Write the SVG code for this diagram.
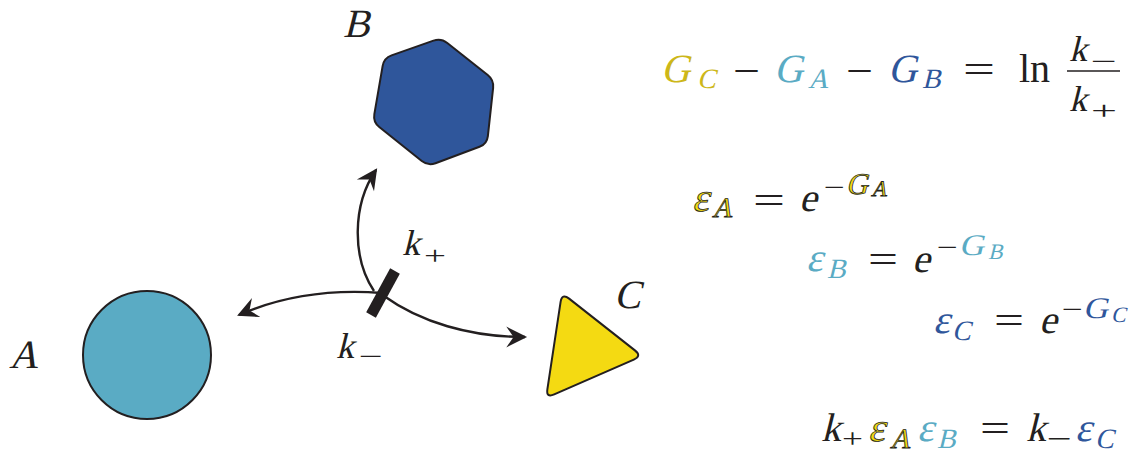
<svg xmlns="http://www.w3.org/2000/svg" width="1139" height="455" viewBox="0 0 1139 455">
<style>
text{font-family:"Liberation Serif","DejaVu Serif",serif;font-style:normal;fill:#231f20}
.shape{stroke:#231f20;stroke-width:2;stroke-linejoin:round}
.conn{fill:none;stroke:#231f20;stroke-width:2.4}
.y{fill:#cdb719}
.yo{fill:#f4da12;stroke:#231f20;stroke-width:0.8}
.lb{fill:#5aabc4}
.db{fill:#2f569b}
.s40{font-size:40px}
.s36{font-size:36px}
.s30{font-size:30px}
.s28{font-size:28px}
.s26{font-size:26px}
.s22{font-size:22px}
.s20{font-size:20px}
</style>
<defs>
<marker id="ah" markerUnits="userSpaceOnUse" markerWidth="26" markerHeight="26" refX="0" refY="0" viewBox="-21 -11 25 22" orient="auto">
<path d="M2,0 L-18,-10 L-11,0 L-18,10 Z" fill="#231f20"/>
</marker>
</defs>
<g id="node-A">
<circle cx="147" cy="355" r="64" fill="#5aabc4" class="shape"/>
<text class="s40" transform="translate(9,368) skewX(-14)">A</text>
</g>
<g id="node-B">
<path class="shape" fill="#2f569b" d="M391.55,55.35 L433.45,40.65 Q441,38 447.27,42.97 L487.73,75.03 Q494,80 493.13,87.95 L487.87,136.05 Q487,144 479.5,146.79 L435.5,163.21 Q428,166 421.75,161 L379.25,127 Q373,122 374.35,114.11 L382.65,65.89 Q384,58 391.55,55.35 Z"/>
<text class="s40" transform="translate(343,37) skewX(-14)">B</text>
</g>
<g id="node-C">
<path class="shape" fill="#f4da12" d="M569.1,298.6 L634.9,350.4 Q642,356 633.8,359.6 L554.2,394.4 Q546,398 547.4,389.1 L560.6,301.9 Q562,293 569.1,298.6 Z"/>
<text class="s40" transform="translate(614,308) skewX(-14)">C</text>
</g>
<g id="connectors">
<path class="conn" d="M374,291 C352,258 352,205 376,170" marker-end="url(#ah)"/>
<path class="conn" d="M382,293 C330,289 280,297 239,315" marker-end="url(#ah)"/>
<path class="conn" d="M384,296 C420,322 470,337 525,337" marker-end="url(#ah)"/>
<line x1="395" y1="271" x2="371" y2="315" stroke="#231f20" stroke-width="11"/>
<text class="s36" transform="translate(402,255) skewX(-14)">k</text>
<text class="s26" x="424" y="264" textLength="22" lengthAdjust="spacingAndGlyphs">+</text>
<text class="s36" transform="translate(336,358) skewX(-14)">k</text>
<text class="s26" x="359" y="365" textLength="24" lengthAdjust="spacingAndGlyphs">−</text>
</g>
<g id="eq1">
<text class="s40 y" transform="translate(661,82) skewX(-14)">G</text>
<text class="s28 y" transform="translate(697,88) skewX(-14)">C</text>
<text class="s40" x="733" y="84" textLength="27" lengthAdjust="spacingAndGlyphs">−</text>
<text class="s40 lb" transform="translate(774,82) skewX(-14)">G</text>
<text class="s28 lb" transform="translate(808,88) skewX(-14)">A</text>
<text class="s40" x="846" y="84" textLength="27" lengthAdjust="spacingAndGlyphs">−</text>
<text class="s40 db" transform="translate(888,82) skewX(-14)">G</text>
<text class="s28 db" transform="translate(922,88) skewX(-14)">B</text>
<text class="s40" x="963" y="83" textLength="32" lengthAdjust="spacingAndGlyphs">=</text>
<text class="s40" x="1019" y="82">ln</text>
<text class="s36" transform="translate(1069,61) skewX(-14)">k</text>
<text class="s26" x="1091" y="70" textLength="26" lengthAdjust="spacingAndGlyphs">−</text>
<line x1="1067" y1="71" x2="1120" y2="71" stroke="#231f20" stroke-width="1.6"/>
<text class="s36" transform="translate(1069,111) skewX(-14)">k</text>
<text class="s26" x="1091" y="119" textLength="26" lengthAdjust="spacingAndGlyphs">+</text>
</g>
<g id="eq2">
<text class="s40 yo" transform="translate(692,211) skewX(-14)">ε</text>
<text class="s28 yo" transform="translate(712,217) skewX(-14)">A</text>
<text class="s40" x="753" y="214" textLength="32" lengthAdjust="spacingAndGlyphs">=</text>
<text class="s40" transform="translate(799,211) skewX(-14)">e</text>
<text class="s26" x="824" y="196" textLength="21" lengthAdjust="spacingAndGlyphs">−</text>
<text class="s30 yo" transform="translate(846,194) skewX(-14)">G</text>
<text class="s22 yo" transform="translate(871,196) skewX(-14)">A</text>
</g>
<g id="eq3">
<text class="s40 lb" transform="translate(806,271) skewX(-14)">ε</text>
<text class="s28 lb" transform="translate(827,278) skewX(-14)">B</text>
<text class="s40" x="868" y="273" textLength="30" lengthAdjust="spacingAndGlyphs">=</text>
<text class="s40" transform="translate(912,272) skewX(-14)">e</text>
<text class="s26" x="937" y="256" textLength="21" lengthAdjust="spacingAndGlyphs">−</text>
<text class="s30 lb" transform="translate(959,255) skewX(-14)" textLength="25" lengthAdjust="spacingAndGlyphs">G</text>
<text class="s22 lb" transform="translate(988,259) skewX(-14)">B</text>
</g>
<g id="eq4">
<text class="s40 db" transform="translate(933,333) skewX(-14)">ε</text>
<text class="s28 db" transform="translate(952,340) skewX(-14)">C</text>
<text class="s40" x="994" y="334" textLength="30" lengthAdjust="spacingAndGlyphs">=</text>
<text class="s40" transform="translate(1039,333) skewX(-14)">e</text>
<text class="s26" x="1062" y="318" textLength="21" lengthAdjust="spacingAndGlyphs">−</text>
<text class="s30 db" transform="translate(1083,318) skewX(-14)" textLength="25" lengthAdjust="spacingAndGlyphs">G</text>
<text class="s22 db" transform="translate(1111,322) skewX(-14)">C</text>
</g>
<g id="eq5">
<text class="s40" transform="translate(821,441) skewX(-14)">k</text>
<text class="s28" x="842" y="448" textLength="21" lengthAdjust="spacingAndGlyphs">+</text>
<text class="s40 yo" transform="translate(868,441) skewX(-14)">ε</text>
<text class="s28 yo" transform="translate(890,448) skewX(-14)">A</text>
<text class="s40 lb" transform="translate(917,441) skewX(-14)">ε</text>
<text class="s28 lb" transform="translate(937,448) skewX(-14)">B</text>
<text class="s40" x="980" y="442" textLength="30" lengthAdjust="spacingAndGlyphs">=</text>
<text class="s40" transform="translate(1026,441) skewX(-14)">k</text>
<text class="s28" x="1047" y="448" textLength="25" lengthAdjust="spacingAndGlyphs">−</text>
<text class="s40 db" transform="translate(1075,441) skewX(-14)">ε</text>
<text class="s28 db" transform="translate(1095,448) skewX(-14)">C</text>
</g>
</svg>
